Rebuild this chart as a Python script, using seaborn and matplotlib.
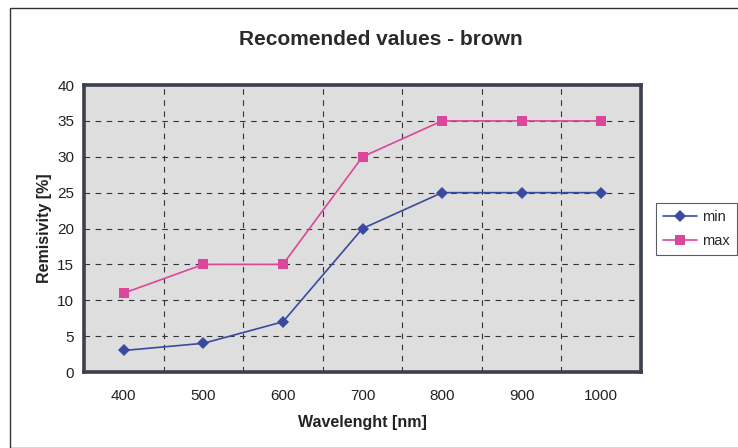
import matplotlib
matplotlib.use("Agg")
import matplotlib.pyplot as plt
import matplotlib.ticker as tck
from matplotlib.patches import Rectangle
import pandas as pd
import seaborn as sns

# Donnees
wavelengths = ["400", "500", "600", "700", "800", "900", "1000"]
min_values = [3, 4, 7, 20, 25, 25, 25]
max_values = [11, 15, 15, 30, 35, 35, 35]
series_names = ["min", "max"]

sns.set_style("white")
plt.rcParams["font.family"] = ["Liberation Sans", "DejaVu Sans"]

df = pd.DataFrame({
    "wavelength": wavelengths * 2,
    "value": min_values + max_values,
    "serie": [series_names[0]] * len(wavelengths) + [series_names[1]] * len(wavelengths),
})

palette = {"min": "#3a4a9e", "max": "#da479b"}

fig = plt.figure(figsize=(7.38, 4.48), dpi=100)
fig.patch.set_facecolor("white")
ax = fig.add_axes([0.1138, 0.1696, 0.7548, 0.6406])

sns.lineplot(data=df, x="wavelength", y="value", hue="serie", style="serie",
             markers={"min": "D", "max": "s"}, dashes=False, palette=palette,
             markersize=6.5, markeredgewidth=0, linewidth=1.2, ax=ax, sort=False)

ax.set_facecolor("#dedede")
ax.set_xlim(-0.5, len(wavelengths) - 0.5)
ax.set_ylim(0, 40)
ax.yaxis.set_major_locator(tck.MultipleLocator(5))

# axe des categories facon Excel : graduations entre les categories
ax.xaxis.set_minor_locator(tck.FixedLocator([i - 0.5 for i in range(len(wavelengths) + 1)]))
ax.tick_params(axis="x", which="major", length=0, pad=12, labelsize=11, labelcolor="#222222")
ax.tick_params(axis="x", which="minor", length=4, width=0.8, color="#333333", direction="out")
ax.tick_params(axis="y", which="major", length=4, width=0.8, color="#333333",
               direction="out", labelsize=11, pad=3, labelcolor="#222222")
ax.grid(False)
ax.xaxis.grid(True, which="minor", linestyle=(0, (5, 5)), color="#333333", linewidth=0.8)
ax.yaxis.grid(True, which="major", linestyle=(0, (5, 5)), color="#333333", linewidth=0.8)

for side in ["top", "right", "left", "bottom"]:
    ax.spines[side].set_visible(True)
    ax.spines[side].set_color("#3c3f4c")
    ax.spines[side].set_linewidth(2.6)

ax.set_xlabel("Wavelenght [nm]", fontsize=11.5, fontweight="bold", color="#222222", labelpad=9)
ax.set_ylabel("Remisivity [%]", fontsize=11.5, fontweight="bold", color="#222222", labelpad=4)

leg = ax.legend(loc="upper left", bbox_to_anchor=(656 / 738, 1 - 203 / 448),
                bbox_transform=fig.transFigure, frameon=True, fancybox=False,
                edgecolor="#333333", fontsize=10.5, handlelength=2.3, handletextpad=0.35,
                borderpad=0.5, borderaxespad=0, labelspacing=0.65)
leg.get_frame().set_linewidth(0.8)
leg.set_title(None)

fig.text(0.516, 0.912, "Recomended values - brown", ha="center", va="center",
         fontsize=15, fontweight="bold", color="#2a2a2a")

fig.patches.append(Rectangle((10 / 738, 0.0), 1.0, 1 - 8 / 448, transform=fig.transFigure,
                             fill=False, edgecolor="#333333", linewidth=1.0))

plt.savefig("out.png", dpi=100)
